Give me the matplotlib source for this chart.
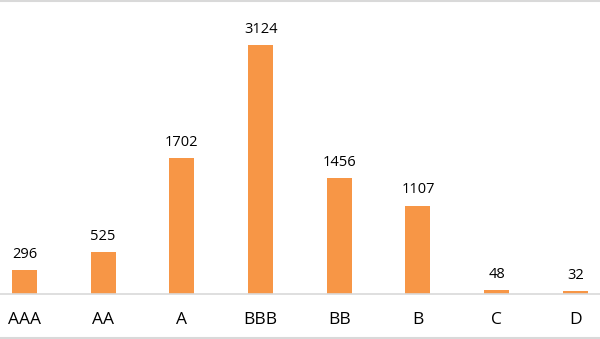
import matplotlib.pyplot as plt
from matplotlib.lines import Line2D

# rating buckets and counts
ratings = ['AAA', 'AA', 'A', 'BBB', 'BB', 'B', 'C', 'D']
counts = [296, 525, 1702, 3124, 1456, 1107, 48, 32]

fig = plt.figure(figsize=(6, 3.39), dpi=100)
ax = fig.add_axes([0, 1 - 294 / 339, 1, 294 / 339])

x = range(len(ratings))
bars = ax.bar(x, counts, width=0.318, color='#F79646')

ax.set_xlim(-0.311, 7.313)
ax.set_ylim(0, 3688)
ax.set_yticks([])
ax.set_xticks([])
for s in ['top', 'left', 'right']:
    ax.spines[s].set_visible(False)
ax.spines['bottom'].set_color('#d9d9d9')
ax.spines['bottom'].set_linewidth(1.2)

for b, v in zip(bars, counts):
    ax.annotate(str(v), (b.get_x() + b.get_width() / 2, v),
                xytext=(0, 6), textcoords='offset points',
                ha='center', va='bottom', fontsize=10.5,
                family='Open Sans', color='#000000')

# category labels under the axis line
for i, r in enumerate(ratings):
    ax.annotate(r, (i, 0), xytext=(0, -19), textcoords='offset points',
                ha='center', va='center', fontsize=12.5,
                family='Open Sans', color='#000000')

# light frame lines at top and bottom
fig.add_artist(Line2D([0, 1], [1 - 1 / 339, 1 - 1 / 339], color='#d9d9d9', lw=1.5))
fig.add_artist(Line2D([0, 1], [1 / 339, 1 / 339], color='#d9d9d9', lw=1.5))

fig.savefig('out.png', dpi=100)
